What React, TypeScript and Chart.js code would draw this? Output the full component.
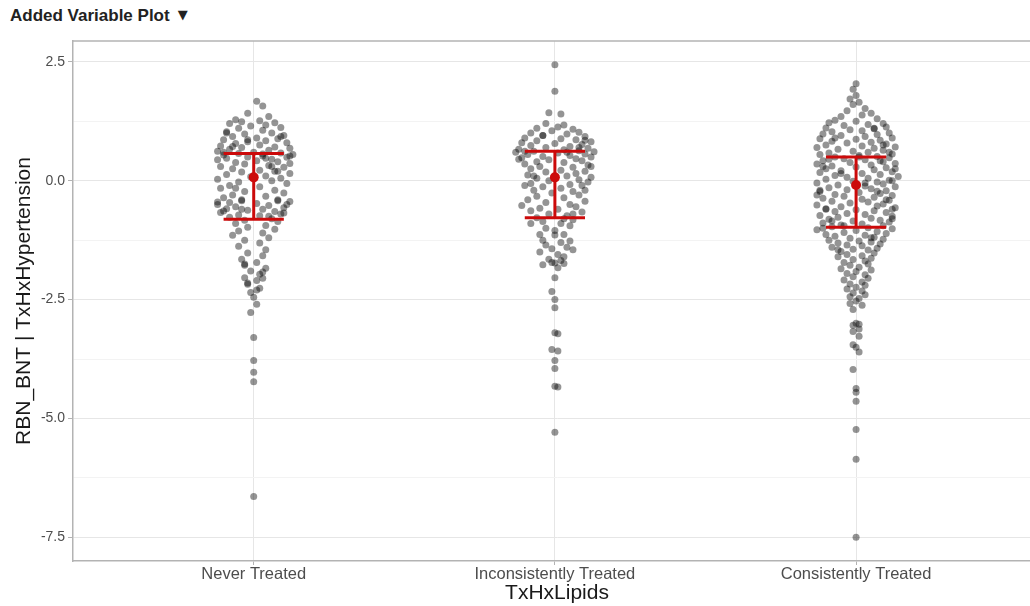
import React, { useEffect, useRef } from "react";
import { Chart, registerables } from "chart.js";

Chart.register(...registerables);

const chartTitle = "Added Variable Plot";
const xAxisTitle = "TxHxLipids";
const yAxisTitle = "RBN_BNT | TxHxHypertension";
const categories = ["Never Treated", "Inconsistently Treated", "Consistently Treated"];
const centerValues = [0.07, 0.07, -0.09];
const lowerValues = [-0.81, -0.78, -0.98];
const upperValues = [0.57, 0.62, 0.5];
const yMajorTicks = [2.5, 0, -2.5, -5, -7.5];
const yTickLabels = ["2.5", "0.0", "-2.5", "-5.0", "-7.5"];
const yMinorTicks = [1.25, -1.25, -3.75, -6.25];

// [jitter offset from category, value]
const neverTreated: [number, number][] = [
  [0.01, 1.67], [0.03, 1.57], [-0.02, 1.42], [0.05, 1.35], [-0.06, 1.28], [0.02, 1.26], [-0.04, 1.24], [0.07, 1.22],
  [-0.08, 1.2], [0.04, 1.17], [-0.01, 1.15], [0.09, 1.12], [-0.05, 1.1], [0.03, 1.06], [-0.09, 1.03], [0.06, 1.0],
  [-0.03, 0.98], [0.1, 0.95], [-0.07, 0.93], [0.01, 0.9], [0.08, 0.88], [-0.1, 0.86], [0.04, 0.84], [-0.02, 0.82],
  [0.11, 0.8], [-0.06, 0.78], [0.02, 0.75], [-0.11, 0.73], [0.07, 0.71], [-0.04, 0.7], [0.12, 0.68], [-0.08, 0.66],
  [0.05, 0.64], [-0.12, 0.62], [0.0, 0.6], [0.09, 0.58], [-0.05, 0.57], [0.13, 0.55], [-0.1, 0.54], [0.03, 0.52],
  [-0.02, 0.5], [0.11, 0.49], [-0.09, 0.47], [0.06, 0.45], [-0.12, 0.44], [0.01, 0.42], [0.08, 0.4], [-0.06, 0.38],
  [0.12, 0.36], [-0.03, 0.35], [0.05, 0.32], [-0.11, 0.3], [0.1, 0.28], [-0.07, 0.25], [0.02, 0.22], [0.08, 0.2],
  [-0.04, 0.18], [0.12, 0.15], [-0.09, 0.13], [0.04, 0.1], [-0.01, 0.08], [0.09, 0.05], [-0.12, 0.03], [0.06, 0.0],
  [-0.05, -0.03], [0.11, -0.06], [-0.08, -0.1], [0.02, -0.13], [-0.11, -0.16], [0.07, -0.2], [-0.03, -0.23], [0.1, -0.26],
  [-0.07, -0.3], [0.04, -0.33], [-0.1, -0.36], [0.08, -0.4], [-0.04, -0.42], [0.12, -0.44], [-0.08, -0.46], [0.01, -0.48],
  [-0.12, -0.5], [0.05, -0.52], [-0.06, -0.55], [0.1, -0.57], [-0.09, -0.59], [0.03, -0.6], [-0.02, -0.62], [0.07, -0.65],
  [-0.11, -0.67], [0.09, -0.7], [-0.05, -0.72], [0.02, -0.74], [-0.08, -0.77], [0.06, -0.8], [-0.03, -0.83], [0.08, -0.86],
  [-0.06, -0.9], [0.04, -0.94], [-0.02, -0.98], [0.07, -1.02], [-0.05, -1.06], [0.03, -1.1], [-0.07, -1.15], [0.05, -1.2],
  [-0.03, -1.25], [0.02, -1.31], [-0.05, -1.38], [0.04, -1.45], [-0.02, -1.52], [0.03, -1.58], [-0.04, -1.65], [0.01, -1.72],
  [-0.03, -1.78], [0.04, -1.84], [-0.01, -1.9], [0.02, -1.97], [-0.03, -2.04], [0.01, -2.1], [-0.02, -2.18], [0.02, -2.26],
  [-0.01, -2.35], [0.0, -2.45], [0.01, -2.6], [-0.01, -2.77], [0.0, -3.3], [0.0, -3.78], [0.0, -4.03], [0.0, -4.23],
  [0.0, -6.64], [0.09, 0.93], [-0.1, 0.6], [0.04, 0.47], [-0.07, 0.72], [0.11, -0.5], [-0.04, -0.6], [0.06, 0.3],
  [-0.09, 1.0], [0.03, 0.56], [-0.12, -0.45], [0.1, -0.68], [-0.02, 0.86], [0.07, 0.2], [-0.06, -0.16], [0.12, 0.52],
  [-0.03, -1.75], [0.03, -1.92], [-0.02, -2.15], [0.01, -2.3], [0.03, -2.05], [-0.04, -0.4], [0.08, -0.42], [-0.1, -0.64],
  [0.05, -0.75],
];

const inconsistentlyTreated: [number, number][] = [
  [0.0, 2.44], [0.0, 1.88], [-0.02, 1.43], [0.02, 1.4], [-0.03, 1.2], [0.03, 1.17], [0.01, 1.13], [-0.06, 1.1],
  [0.06, 1.08], [-0.01, 1.05], [0.08, 1.02], [-0.08, 1.0], [0.04, 0.98], [-0.04, 0.95], [0.1, 0.93], [-0.1, 0.9],
  [0.02, 0.88], [0.07, 0.86], [-0.06, 0.84], [0.12, 0.82], [-0.11, 0.8], [0.0, 0.78], [0.09, 0.76], [-0.08, 0.74],
  [0.05, 0.72], [-0.03, 0.7], [0.11, 0.68], [-0.12, 0.66], [0.03, 0.65], [0.08, 0.63], [-0.07, 0.62], [0.13, 0.61],
  [-0.13, 0.6], [0.01, 0.58], [0.1, 0.56], [-0.09, 0.55], [0.05, 0.53], [-0.04, 0.51], [0.12, 0.5], [-0.11, 0.48],
  [0.07, 0.46], [-0.02, 0.44], [0.09, 0.42], [-0.06, 0.4], [0.03, 0.38], [-0.1, 0.35], [0.11, 0.33], [-0.05, 0.3],
  [0.06, 0.28], [-0.08, 0.25], [0.02, 0.22], [0.1, 0.2], [-0.03, 0.18], [0.07, 0.15], [-0.09, 0.12], [0.04, 0.1],
  [0.12, 0.07], [-0.06, 0.05], [0.08, 0.02], [-0.02, 0.0], [0.11, -0.03], [-0.08, -0.06], [0.05, -0.08], [0.09, -0.1],
  [-0.04, -0.13], [0.02, -0.16], [-0.07, -0.2], [0.06, -0.23], [-0.01, -0.26], [0.08, -0.3], [-0.06, -0.33], [0.03, -0.36],
  [-0.09, -0.4], [0.1, -0.43], [-0.03, -0.46], [0.05, -0.5], [-0.11, -0.52], [0.07, -0.55], [-0.05, -0.58], [0.01, -0.6],
  [-0.08, -0.63], [0.09, -0.66], [-0.02, -0.7], [0.04, -0.74], [-0.06, -0.78], [0.06, -0.82], [-0.04, -0.86], [0.02, -0.9],
  [0.05, -0.95], [-0.03, -1.0], [0.0, -1.05], [-0.05, -1.13], [0.03, -1.13], [0.0, -1.14], [-0.04, -1.25], [0.05, -1.27],
  [0.02, -1.3], [-0.03, -1.35], [0.04, -1.4], [-0.01, -1.43], [0.06, -1.45], [-0.05, -1.5], [0.01, -1.55], [0.03, -1.6],
  [-0.02, -1.65], [0.02, -1.68], [-0.01, -1.72], [0.0, -1.73], [0.03, -1.74], [-0.04, -1.77], [0.01, -1.83], [0.0, -2.04],
  [-0.01, -2.33], [0.0, -2.5], [0.0, -2.67], [0.0, -3.2], [0.01, -3.22], [-0.01, -3.55], [0.01, -3.58], [0.0, -3.78],
  [0.0, -3.95], [0.0, -4.32], [0.01, -4.34], [0.0, -5.29], [0.1, 0.85], [-0.1, 0.62], [0.04, 0.6], [-0.12, 0.45],
  [0.12, 0.3], [-0.07, 0.1], [0.1, -0.2], [-0.1, -0.1], [0.08, 0.7], [-0.04, 0.95], [0.06, -0.7], [-0.08, -0.9],
  [0.03, -0.8],
];

const consistentlyTreated: [number, number][] = [
  [0.0, 2.04], [-0.01, 1.92], [0.0, 1.79], [-0.02, 1.72], [0.01, 1.65], [-0.01, 1.6], [0.03, 1.52], [-0.03, 1.47],
  [0.05, 1.42], [0.02, 1.38], [-0.05, 1.35], [0.07, 1.3], [-0.07, 1.27], [0.0, 1.25], [-0.09, 1.22], [0.09, 1.2],
  [0.04, 1.18], [-0.04, 1.16], [0.1, 1.13], [-0.1, 1.11], [0.06, 1.09], [-0.02, 1.07], [0.02, 1.05], [-0.08, 1.03],
  [0.11, 1.0], [-0.11, 0.98], [0.07, 0.97], [-0.05, 0.95], [0.03, 0.93], [0.12, 0.9], [-0.12, 0.88], [0.0, 0.87],
  [0.08, 0.85], [-0.08, 0.83], [0.05, 0.81], [-0.03, 0.79], [0.1, 0.77], [-0.1, 0.75], [0.02, 0.73], [0.13, 0.71],
  [-0.13, 0.7], [0.06, 0.68], [-0.06, 0.66], [0.09, 0.64], [-0.01, 0.62], [0.04, 0.6], [-0.09, 0.58], [0.12, 0.56],
  [-0.12, 0.55], [0.01, 0.53], [0.07, 0.51], [-0.07, 0.5], [0.11, 0.48], [-0.04, 0.46], [0.03, 0.44], [-0.11, 0.42],
  [0.09, 0.4], [-0.02, 0.38], [0.13, 0.36], [-0.13, 0.35], [0.05, 0.33], [-0.08, 0.31], [0.0, 0.29], [0.1, 0.27],
  [-0.1, 0.25], [0.06, 0.23], [-0.05, 0.21], [0.12, 0.19], [-0.12, 0.17], [0.02, 0.15], [0.08, 0.13], [-0.07, 0.11],
  [0.14, 0.09], [-0.03, 0.07], [0.04, 0.05], [-0.1, 0.03], [0.11, 0.01], [-0.01, -0.01], [0.07, -0.03], [-0.13, -0.05],
  [0.09, -0.07], [-0.06, -0.09], [0.03, -0.11], [0.13, -0.13], [-0.09, -0.15], [0.05, -0.17], [-0.03, -0.19], [0.1, -0.21],
  [-0.12, -0.23], [0.01, -0.25], [0.08, -0.27], [-0.07, -0.29], [0.12, -0.31], [-0.04, -0.33], [0.06, -0.35], [-0.11, -0.37],
  [0.02, -0.39], [0.11, -0.41], [-0.08, -0.43], [0.04, -0.45], [-0.02, -0.47], [0.09, -0.49], [-0.13, -0.51], [0.07, -0.53],
  [-0.05, -0.55], [0.13, -0.57], [-0.1, -0.59], [0.0, -0.61], [0.06, -0.63], [-0.07, -0.65], [0.1, -0.67], [-0.03, -0.69],
  [0.03, -0.71], [-0.12, -0.73], [0.12, -0.75], [-0.06, -0.77], [0.05, -0.79], [-0.09, -0.81], [0.08, -0.83], [-0.01, -0.85],
  [0.11, -0.87], [-0.11, -0.89], [0.02, -0.91], [-0.05, -0.93], [0.09, -0.95], [-0.08, -0.97], [0.04, -0.99], [0.12, -1.01],
  [-0.13, -1.03], [0.0, -1.05], [0.07, -1.07], [-0.04, -1.09], [0.1, -1.11], [-0.1, -1.13], [0.03, -1.15], [-0.07, -1.17],
  [0.06, -1.19], [-0.02, -1.21], [0.09, -1.23], [-0.09, -1.25], [0.01, -1.27], [0.05, -1.29], [-0.06, -1.31], [0.08, -1.33],
  [-0.03, -1.35], [0.02, -1.37], [-0.08, -1.4], [0.07, -1.42], [-0.01, -1.44], [0.04, -1.46], [-0.05, -1.49], [0.06, -1.52],
  [-0.03, -1.55], [0.02, -1.58], [-0.06, -1.6], [0.05, -1.63], [-0.01, -1.66], [0.03, -1.69], [-0.04, -1.72], [0.04, -1.75],
  [-0.02, -1.78], [0.01, -1.82], [-0.05, -1.85], [0.05, -1.88], [0.0, -1.91], [-0.03, -1.95], [0.03, -1.98], [-0.01, -2.02],
  [0.04, -2.05], [-0.04, -2.09], [0.02, -2.13], [-0.02, -2.17], [0.03, -2.2], [0.0, -2.24], [-0.03, -2.28], [0.02, -2.32],
  [-0.01, -2.36], [0.03, -2.4], [-0.02, -2.44], [0.01, -2.48], [0.0, -2.53], [-0.02, -2.58], [0.02, -2.62], [-0.01, -2.71],
  [0.0, -3.0], [0.01, -3.02], [-0.01, -3.04], [0.01, -3.12], [-0.01, -3.17], [0.01, -3.27], [-0.01, -3.45], [0.0, -3.5],
  [0.01, -3.6], [-0.01, -3.97], [0.0, -4.37], [0.0, -4.45], [0.0, -4.64], [0.0, -5.23], [0.0, -5.86], [0.0, -7.5],
  [0.11, 0.6], [-0.11, 0.3], [0.12, 0.0], [-0.12, -0.2], [0.1, -0.4], [-0.1, -0.6], [0.12, -0.8], [-0.11, -1.0],
  [0.06, 1.1], [-0.07, 0.9], [0.09, 0.75], [-0.09, 0.45], [0.13, 0.25], [-0.13, -0.3], [0.12, -0.6], [-0.08, -0.85],
  [0.05, -1.2], [-0.06, -1.45], [0.08, 0.42], [-0.05, 0.15], [0.03, -0.05], [-0.04, -0.95], [0.07, -0.22], [0.01, 0.5],
];

const groups = [neverTreated, inconsistentlyTreated, consistentlyTreated];

const RED = "#CC0A0A";
const FONT = "'Liberation Sans', Arial, Helvetica, sans-serif";
const BORDER = "#b3b3b3";

const panelTopBorder = {
  id: "panelTopBorder",
  afterDatasetsDraw(chart: any) {
    const { ctx, chartArea } = chart;
    ctx.save();
    ctx.strokeStyle = BORDER;
    ctx.lineWidth = 1.5;
    ctx.beginPath();
    ctx.moveTo(chartArea.left, chartArea.top);
    ctx.lineTo(chartArea.right, chartArea.top);
    ctx.stroke();
    ctx.restore();
  },
};

export default function App() {
  const canvasRef = useRef<HTMLCanvasElement | null>(null);

  useEffect(() => {
    if (!canvasRef.current) return;
    const datasets: any[] = [];
    categories.forEach((_, i) => {
      const xc = i + 1;
      datasets.push({
        data: [{ x: xc, y: centerValues[i] }],
        pointRadius: 5,
        backgroundColor: RED,
        borderWidth: 0,
        order: 0,
      });
      const lineStyle = {
        showLine: true,
        borderColor: RED,
        borderWidth: 3,
        pointRadius: 0,
        order: 1,
      };
      datasets.push({ ...lineStyle, data: [{ x: xc, y: lowerValues[i] }, { x: xc, y: upperValues[i] }] });
      datasets.push({ ...lineStyle, data: [{ x: xc - 0.1, y: upperValues[i] }, { x: xc + 0.1, y: upperValues[i] }] });
      datasets.push({ ...lineStyle, data: [{ x: xc - 0.1, y: lowerValues[i] }, { x: xc + 0.1, y: lowerValues[i] }] });
      datasets.push({
        data: groups[i].map(([j, v]) => ({ x: xc + j, y: v })),
        pointRadius: 3.5,
        backgroundColor: "rgba(0,0,0,0.42)",
        borderWidth: 0,
        order: 2,
      });
    });

    const allY = [...yMajorTicks, ...yMinorTicks].sort((a, b) => b - a);

    const chart = new Chart(canvasRef.current, {
      type: "scatter",
      data: { datasets },
      plugins: [panelTopBorder],
      options: {
        animation: false,
        responsive: false,
        layout: { padding: { top: 41, left: 0, right: 0, bottom: 0 } },
        plugins: { legend: { display: false }, tooltip: { enabled: false } },
        scales: {
          x: {
            type: "linear",
            min: 0.4,
            max: 3.614,
            afterFit: (s: any) => { s.height = 45; },
            afterBuildTicks: (s: any) => { s.ticks = categories.map((_, i) => ({ value: i + 1 })); },
            ticks: {
              autoSkip: false,
              maxRotation: 0,
              padding: 0,
              color: "#4d4d4d",
              font: { family: FONT, size: 16.5 },
              callback: (v: any) => categories[Math.round(Number(v)) - 1] ?? "",
            },
            grid: { color: "#e6e6e6", lineWidth: 1, tickLength: 4, tickColor: BORDER },
            border: { display: true, color: BORDER, width: 1.5 },
            title: {
              display: true,
              text: xAxisTitle,
              color: "#1a1a1a",
              font: { family: FONT, size: 21 },
              padding: { top: 0, bottom: 0 },
            },
          },
          y: {
            type: "linear",
            min: -7.997,
            max: 2.937,
            afterFit: (s: any) => { s.width = 73; },
            afterBuildTicks: (s: any) => { s.ticks = allY.map((v) => ({ value: v })); },
            ticks: {
              autoSkip: false,
              padding: 3,
              color: "#4d4d4d",
              font: { family: FONT, size: 14 },
              callback: (v: any) => {
                const idx = yMajorTicks.findIndex((m) => Math.abs(m - Number(v)) < 1e-6);
                return idx >= 0 ? yTickLabels[idx] : "";
              },
            },
            grid: {
              lineWidth: 1,
              tickLength: 5,
              color: (ctx: any) => {
                const v = ctx.tick ? ctx.tick.value : 0;
                return yMajorTicks.some((m) => Math.abs(m - v) < 1e-6) ? "#e6e6e6" : "#f3f3f3";
              },
              tickColor: (ctx: any) => {
                const v = ctx.tick ? ctx.tick.value : 0;
                return yMajorTicks.some((m) => Math.abs(m - v) < 1e-6) ? BORDER : "rgba(0,0,0,0)";
              },
            },
            border: { display: true, color: BORDER, width: 1.5 },
            title: {
              display: true,
              text: yAxisTitle,
              color: "#1a1a1a",
              font: { family: FONT, size: 21 },
              padding: { top: 12, bottom: 0 },
            },
          },
        },
      } as any,
    });
    return () => chart.destroy();
  }, []);

  return (
    <div style={{ position: "absolute", left: 0, top: 0, width: 1030, height: 606, overflow: "hidden", background: "#fff" }}>
      <div
        style={{
          position: "absolute",
          left: 10,
          top: 6,
          fontFamily: FONT,
          fontWeight: "bold",
          fontSize: 17,
          color: "#222",
          whiteSpace: "nowrap",
        }}
      >
        {chartTitle}
        <span style={{ fontFamily: "'DejaVu Sans', sans-serif", fontSize: 13, marginLeft: 8, position: "relative", top: -2 }}>▼</span>
      </div>
      <canvas ref={canvasRef} width={1046} height={606} style={{ position: "absolute", left: 0, top: 0, width: 1046, height: 606 }} />
    </div>
  );
}
